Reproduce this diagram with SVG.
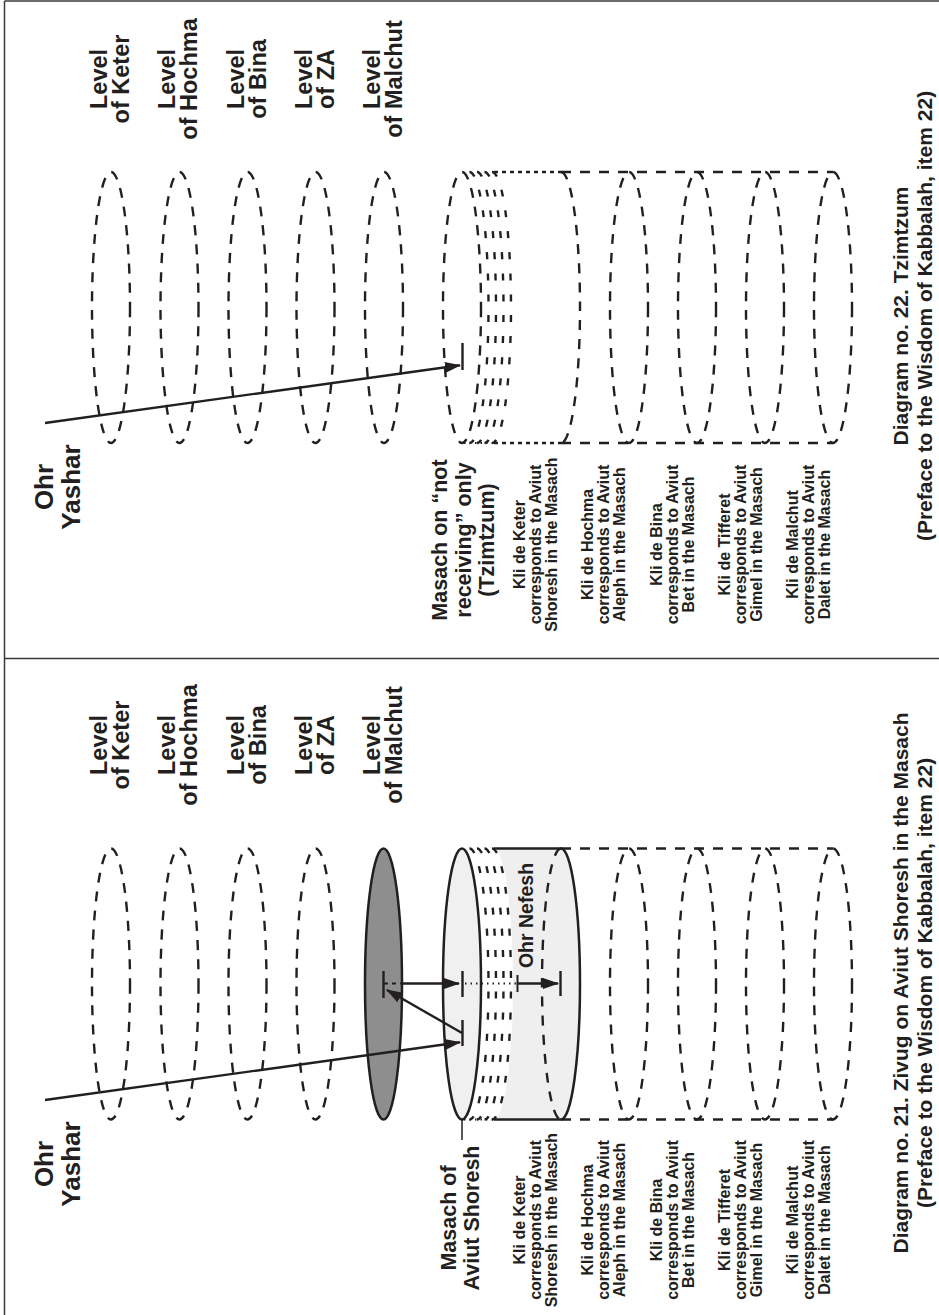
<svg xmlns="http://www.w3.org/2000/svg" width="939" height="1315" viewBox="0 0 939 1315">
<style>
text{font-family:"Liberation Sans",Arial,Helvetica,sans-serif;font-weight:bold;fill:#231f20;text-anchor:middle}
.lv{font-size:23.5px}
.oy{font-size:26px}
.ms{font-size:21.5px}
.kl{font-size:16px}
.tt{font-size:21px}
.on{font-size:19.5px}
.d{fill:none;stroke:#231f20;stroke-width:2.4;stroke-dasharray:10 9}
.r{fill:none;stroke:#231f20;stroke-width:2.4;stroke-dasharray:7 14}
.sd{fill:none;stroke:#231f20;stroke-width:2.4;stroke-dasharray:4 4}
.dt{fill:none;stroke:#231f20;stroke-width:2;stroke-dasharray:1.5 4}
.s{fill:none;stroke:#231f20;stroke-width:2.5}
.ln{fill:none;stroke:#231f20;stroke-width:2.4}
.fr{fill:none;stroke:#3a3a3a;stroke-width:1.5}
</style>
<defs>
<marker id="ah" markerUnits="userSpaceOnUse" markerWidth="16" markerHeight="11" refX="15" refY="5.5" orient="auto">
<path d="M0,0 L16,5.5 L0,11 Z" fill="#231f20"/>
</marker>
</defs>

<g id="frame">
<line class="fr" x1="4.5" y1="1" x2="939" y2="1"/>
<line class="fr" x1="4.5" y1="1" x2="4.5" y2="1315"/>
<line class="fr" x1="4.5" y1="658.5" x2="939" y2="658.5"/>
</g>

<!-- ===== TOP PANEL: Diagram 22 ===== -->
<g id="top-levels">
<ellipse class="d" cx="111" cy="307.5" rx="19" ry="135.5"/>
<ellipse class="d" cx="179.5" cy="307.5" rx="19" ry="135.5"/>
<ellipse class="d" cx="247.5" cy="307.5" rx="19" ry="135.5"/>
<ellipse class="d" cx="315.5" cy="307.5" rx="19" ry="135.5"/>
<ellipse class="d" cx="384" cy="307.5" rx="19" ry="135.5"/>
</g>
<g id="top-level-labels">
<g transform="translate(107,79) rotate(-90)"><text class="lv">Level</text></g>
<g transform="translate(129,79) rotate(-90)"><text class="lv">of Keter</text></g>
<g transform="translate(175.3,79) rotate(-90)"><text class="lv">Level</text></g>
<g transform="translate(197.3,79) rotate(-90)"><text class="lv">of Hochma</text></g>
<g transform="translate(243.6,79) rotate(-90)"><text class="lv">Level</text></g>
<g transform="translate(265.6,79) rotate(-90)"><text class="lv">of Bina</text></g>
<g transform="translate(311.9,79) rotate(-90)"><text class="lv">Level</text></g>
<g transform="translate(333.9,79) rotate(-90)"><text class="lv">of ZA</text></g>
<g transform="translate(380.2,79) rotate(-90)"><text class="lv">Level</text></g>
<g transform="translate(402.2,79) rotate(-90)"><text class="lv">of Malchut</text></g>
</g>
<g id="top-masach">
<ellipse class="d" cx="462" cy="307.5" rx="19" ry="135.5"/>
<path class="r" d="M469.5,172 A19,135.5 0 0 1 469.5,443"/>
<path class="r" d="M477,172 A19,135.5 0 0 1 477,443"/>
<path class="r" d="M484.5,172 A19,135.5 0 0 1 484.5,443"/>
<path class="r" d="M492,172 A19,135.5 0 0 1 492,443"/>
</g>
<g id="top-kelim">
<line class="sd" x1="494" y1="172" x2="561" y2="172"/>
<line class="dt" x1="464" y1="443" x2="494" y2="443"/>
<line class="sd" x1="494" y1="443" x2="561" y2="443"/>
<line class="d" x1="561" y1="172" x2="833" y2="172"/>
<line class="d" x1="561" y1="443" x2="833" y2="443"/>
<path class="d" d="M561,172 A19,135.5 0 0 1 561,443"/>
<ellipse class="d" cx="629" cy="307.5" rx="19" ry="135.5"/>
<ellipse class="d" cx="697" cy="307.5" rx="19" ry="135.5"/>
<ellipse class="d" cx="765" cy="307.5" rx="19" ry="135.5"/>
<ellipse class="d" cx="833" cy="307.5" rx="19" ry="135.5"/>
</g>
<g id="top-ohr-yashar-label">
<g transform="translate(53,487) rotate(-90)"><text class="oy">Ohr</text></g>
<g transform="translate(80,487) rotate(-90)"><text class="oy">Yashar</text></g>
</g>
<g id="top-masach-label">
<g transform="translate(447,540) rotate(-90)"><text class="ms">Masach on “not</text></g>
<g transform="translate(470.5,540) rotate(-90)"><text class="ms">receiving” only</text></g>
<g transform="translate(494,540) rotate(-90)"><text class="ms">(Tzimtzum)</text></g>
</g>
<g id="top-kli-labels">
<g transform="translate(525,544.5) rotate(-90)"><text class="kl">Kli de Keter</text></g>
<g transform="translate(541,544.5) rotate(-90)"><text class="kl">corresponds to Aviut</text></g>
<g transform="translate(557,544.5) rotate(-90)"><text class="kl">Shoresh in the Masach</text></g>
<g transform="translate(593.3,544.5) rotate(-90)"><text class="kl">Kli de Hochma</text></g>
<g transform="translate(609.3,544.5) rotate(-90)"><text class="kl">corresponds to Aviut</text></g>
<g transform="translate(625.3,544.5) rotate(-90)"><text class="kl">Aleph in the Masach</text></g>
<g transform="translate(661.6,544.5) rotate(-90)"><text class="kl">Kli de Bina</text></g>
<g transform="translate(677.6,544.5) rotate(-90)"><text class="kl">corresponds to Aviut</text></g>
<g transform="translate(693.6,544.5) rotate(-90)"><text class="kl">Bet in the Masach</text></g>
<g transform="translate(729.9,544.5) rotate(-90)"><text class="kl">Kli de Tifferet</text></g>
<g transform="translate(745.9,544.5) rotate(-90)"><text class="kl">corresponds to Aviut</text></g>
<g transform="translate(761.9,544.5) rotate(-90)"><text class="kl">Gimel in the Masach</text></g>
<g transform="translate(798.2,544.5) rotate(-90)"><text class="kl">Kli de Malchut</text></g>
<g transform="translate(814.2,544.5) rotate(-90)"><text class="kl">corresponds to Aviut</text></g>
<g transform="translate(830.2,544.5) rotate(-90)"><text class="kl">Dalet in the Masach</text></g>
</g>
<g id="top-title">
<g transform="translate(908,316) rotate(-90)"><text class="tt">Diagram no. 22. Tzimtzum</text></g>
<g transform="translate(932,316) rotate(-90)"><text class="tt">(Preface to the Wisdom of Kabbalah, item 22)</text></g>
</g>
<g id="top-connectors">
<line class="ln" x1="45" y1="423" x2="460" y2="365.3" marker-end="url(#ah)"/>
<line class="ln" x1="462.5" y1="343" x2="462.5" y2="370"/>
</g>

<!-- ===== BOTTOM PANEL: Diagram 21 ===== -->
<g id="bottom-levels">
<ellipse class="d" cx="111" cy="984" rx="19" ry="135.5"/>
<ellipse class="d" cx="179.5" cy="984" rx="19" ry="135.5"/>
<ellipse class="d" cx="247.5" cy="984" rx="19" ry="135.5"/>
<ellipse class="d" cx="315.5" cy="984" rx="19" ry="135.5"/>
<ellipse cx="383.5" cy="984" rx="18.5" ry="135.5" fill="#8e8e8e" stroke="#231f20" stroke-width="2.5"/>
</g>
<g id="bottom-level-labels">
<g transform="translate(107,745) rotate(-90)"><text class="lv">Level</text></g>
<g transform="translate(129,745) rotate(-90)"><text class="lv">of Keter</text></g>
<g transform="translate(175.3,745) rotate(-90)"><text class="lv">Level</text></g>
<g transform="translate(197.3,745) rotate(-90)"><text class="lv">of Hochma</text></g>
<g transform="translate(243.6,745) rotate(-90)"><text class="lv">Level</text></g>
<g transform="translate(265.6,745) rotate(-90)"><text class="lv">of Bina</text></g>
<g transform="translate(311.9,745) rotate(-90)"><text class="lv">Level</text></g>
<g transform="translate(333.9,745) rotate(-90)"><text class="lv">of ZA</text></g>
<g transform="translate(380.2,745) rotate(-90)"><text class="lv">Level</text></g>
<g transform="translate(402.2,745) rotate(-90)"><text class="lv">of Malchut</text></g>
</g>
<g id="bottom-kelim">
<path d="M494,848.5 L561,848.5 A19,135.5 0 0 1 561,1119.5 L494,1119.5 A19,135.5 0 0 0 494,848.5 Z" fill="#efefef"/>
<line class="s" x1="494" y1="848.5" x2="561" y2="848.5"/>
<line class="s" x1="494" y1="1119.5" x2="561" y2="1119.5"/>
<path class="s" d="M561,848.5 A19,135.5 0 0 1 561,1119.5"/>
<path class="d" d="M561,848.5 A19,135.5 0 0 0 561,1119.5"/>
<line class="d" x1="561" y1="848.5" x2="833" y2="848.5"/>
<line class="d" x1="561" y1="1119.5" x2="833" y2="1119.5"/>
<ellipse class="d" cx="629" cy="984" rx="19" ry="135.5"/>
<ellipse class="d" cx="697" cy="984" rx="19" ry="135.5"/>
<ellipse class="d" cx="765" cy="984" rx="19" ry="135.5"/>
<ellipse class="d" cx="833" cy="984" rx="19" ry="135.5"/>
<g transform="translate(533,915.5) rotate(-90)"><text class="on">Ohr Nefesh</text></g>
</g>
<g id="bottom-masach">
<path class="r" d="M469.5,848.5 A19,135.5 0 0 1 469.5,1119.5"/>
<path class="r" d="M477,848.5 A19,135.5 0 0 1 477,1119.5"/>
<path class="r" d="M484.5,848.5 A19,135.5 0 0 1 484.5,1119.5"/>
<path class="r" d="M492,848.5 A19,135.5 0 0 1 492,1119.5"/>
<line class="dt" x1="464" y1="1119.5" x2="494" y2="1119.5"/>
<ellipse cx="462" cy="984" rx="19" ry="135.5" fill="#f0f0f0" stroke="#231f20" stroke-width="2.5"/>
<line x1="462" y1="1120" x2="462" y2="1140" stroke="#231f20" stroke-width="1.5"/>
</g>
<g id="bottom-ohr-yashar-label">
<g transform="translate(53,1164) rotate(-90)"><text class="oy">Ohr</text></g>
<g transform="translate(80,1164) rotate(-90)"><text class="oy">Yashar</text></g>
</g>
<g id="bottom-masach-label">
<g transform="translate(455.5,1218) rotate(-90)"><text class="ms">Masach of</text></g>
<g transform="translate(479,1218) rotate(-90)"><text class="ms">Aviut Shoresh</text></g>
</g>
<g id="bottom-kli-labels">
<g transform="translate(525,1220) rotate(-90)"><text class="kl">Kli de Keter</text></g>
<g transform="translate(541,1220) rotate(-90)"><text class="kl">corresponds to Aviut</text></g>
<g transform="translate(557,1220) rotate(-90)"><text class="kl">Shoresh in the Masach</text></g>
<g transform="translate(593.3,1220) rotate(-90)"><text class="kl">Kli de Hochma</text></g>
<g transform="translate(609.3,1220) rotate(-90)"><text class="kl">corresponds to Aviut</text></g>
<g transform="translate(625.3,1220) rotate(-90)"><text class="kl">Aleph in the Masach</text></g>
<g transform="translate(661.6,1220) rotate(-90)"><text class="kl">Kli de Bina</text></g>
<g transform="translate(677.6,1220) rotate(-90)"><text class="kl">corresponds to Aviut</text></g>
<g transform="translate(693.6,1220) rotate(-90)"><text class="kl">Bet in the Masach</text></g>
<g transform="translate(729.9,1220) rotate(-90)"><text class="kl">Kli de Tifferet</text></g>
<g transform="translate(745.9,1220) rotate(-90)"><text class="kl">corresponds to Aviut</text></g>
<g transform="translate(761.9,1220) rotate(-90)"><text class="kl">Gimel in the Masach</text></g>
<g transform="translate(798.2,1220) rotate(-90)"><text class="kl">Kli de Malchut</text></g>
<g transform="translate(814.2,1220) rotate(-90)"><text class="kl">corresponds to Aviut</text></g>
<g transform="translate(830.2,1220) rotate(-90)"><text class="kl">Dalet in the Masach</text></g>
</g>
<g id="bottom-title">
<g transform="translate(908,983) rotate(-90)"><text class="tt">Diagram no. 21. Zivug on Aviut Shoresh in the Masach</text></g>
<g transform="translate(932,983) rotate(-90)"><text class="tt">(Preface to the Wisdom of Kabbalah, item 22)</text></g>
</g>
<g id="bottom-connectors">
<line class="ln" x1="45" y1="1100" x2="460" y2="1042.3" marker-end="url(#ah)"/>
<line class="ln" x1="462.5" y1="1020" x2="462.5" y2="1046"/>
<line class="ln" x1="462" y1="1033" x2="387" y2="990" marker-end="url(#ah)"/>
<line class="ln" x1="383.5" y1="971" x2="383.5" y2="998"/>
<line x1="384" y1="983.5" x2="401" y2="983.5" stroke="#231f20" stroke-width="2" stroke-dasharray="4 4"/>
<line class="ln" x1="401" y1="983.5" x2="459" y2="983.5" marker-end="url(#ah)"/>
<line class="ln" x1="462.5" y1="971" x2="462.5" y2="997"/>
<line class="dt" x1="465" y1="983.5" x2="516" y2="983.5"/>
<line x1="517.5" y1="975" x2="517.5" y2="992" stroke="#231f20" stroke-width="2"/>
<line class="ln" x1="517.5" y1="983.5" x2="558" y2="983.5" marker-end="url(#ah)"/>
<line class="ln" x1="560.5" y1="971" x2="560.5" y2="996"/>
</g>
</svg>
